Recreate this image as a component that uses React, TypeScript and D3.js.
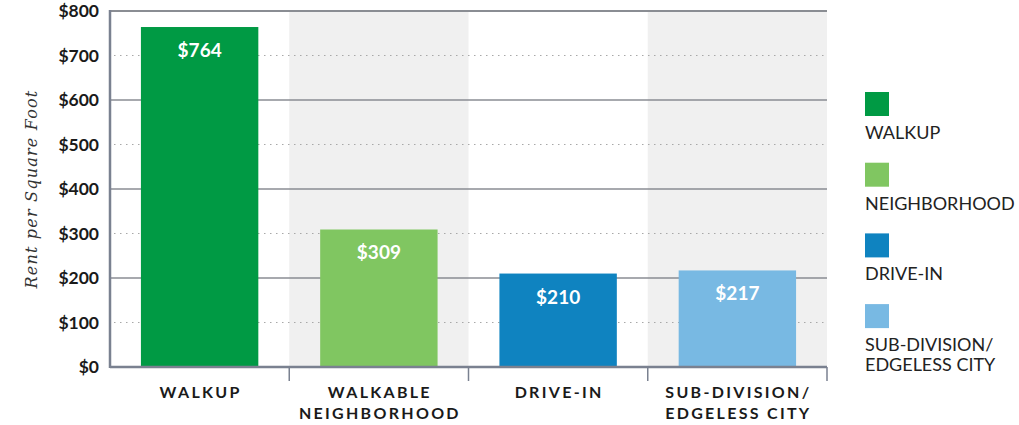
import React from 'react';
import * as d3 from 'd3';

const categories = ['WALKUP', 'WALKABLE|NEIGHBORHOOD', 'DRIVE-IN', 'SUB-DIVISION/|EDGELESS CITY'];
const rents = [764, 309, 210, 217];
const legendLabels = ['WALKUP', 'NEIGHBORHOOD', 'DRIVE-IN', 'SUB-DIVISION/|EDGELESS CITY'];
const barColors = ['#009a44', '#80c661', '#0f83c0', '#78b9e3'];
const yTicks = [0, 100, 200, 300, 400, 500, 600, 700, 800];

const width = 1019;
const height = 425;
const margin = { left: 110, right: 192, top: 11, bottom: 58 };

export default function App() {
  const x = d3
    .scaleBand()
    .domain(d3.range(categories.length).map(String))
    .range([margin.left, width - margin.right])
    .paddingInner(0)
    .paddingOuter(0);
  const inner = 0.655;
  const y = d3
    .scaleLinear()
    .domain([0, 800])
    .range([height - margin.bottom, margin.top]);

  const bw = x.bandwidth();
  const barW = bw * inner;
  const x0 = margin.left;
  const x1 = width - margin.right;

  return (
    <svg width={width} height={height} style={{ position: 'absolute', left: 0, top: 0 }}>
      {categories.map((c, i) =>
        i % 2 === 1 ? (
          <rect key={'bg' + i} x={x(String(i))} y={y(800)} width={bw} height={y(0) - y(800)} fill="#f0f0f0" />
        ) : null
      )}
      {yTicks.map(t =>
        t === 0 ? null : t % 200 === 0 ? (
          <line key={'g' + t} x1={x0} x2={x1} y1={y(t)} y2={y(t)} stroke="#8a8d93" strokeWidth={t === 800 ? 2 : 1.5} />
        ) : (
          <line key={'g' + t} x1={x0 + 4} x2={x1} y1={y(t)} y2={y(t)} stroke="#a8a8a8" strokeWidth={1} strokeDasharray="1.5 4.5" />
        )
      )}
      {rents.map((v, i) => {
        const bx = (x(String(i)) as number) + (bw - barW) / 2;
        return (
          <g key={'b' + i}>
            <rect x={bx} y={y(v)} width={barW} height={y(0) - y(v)} fill={barColors[i]} />
            <text
              x={bx + barW / 2}
              y={y(v) + 30}
              textAnchor="middle"
              fill="#fff"
              fontFamily="Lato, sans-serif"
              fontWeight="bold"
              fontSize={19}
            >
              ${v}
            </text>
          </g>
        );
      })}
      <line x1={x0} x2={x0} y1={y(800) - 1} y2={y(0) + 1} stroke="#7a8190" strokeWidth={2.5} />
      <line x1={x0} x2={x1} y1={y(0)} y2={y(0)} stroke="#7a8190" strokeWidth={2.5} />
      {categories.map((c, i) => (
        <line
          key={'t' + i}
          x1={(x(String(i)) as number) + bw}
          x2={(x(String(i)) as number) + bw}
          y1={y(0)}
          y2={y(0) + 14}
          stroke="#7a8190"
          strokeWidth={1.5}
        />
      ))}
      {yTicks.map(t => (
        <text
          key={'yl' + t}
          x={99}
          y={y(t) + 6}
          textAnchor="end"
          fontFamily="Lato, sans-serif"
          fontWeight="bold"
          fontSize={17.5}
          fill="#1a1a1a"
        >
          ${t}
        </text>
      ))}
      <text
        transform={`translate(37,${y(400)}) rotate(-90)`}
        textAnchor="middle"
        fontFamily="'DejaVu Serif', 'Liberation Serif', serif"
        fontStyle="italic"
        fontSize={16}
        fill="#333"
        letterSpacing={1.2}
      >
        Rent per Square Foot
      </text>
      {categories.map((c, i) => (
        <text
          key={'c' + i}
          x={(x(String(i)) as number) + bw / 2}
          textAnchor="middle"
          fontFamily="Lato, sans-serif"
          fontWeight="bold"
          fontSize={16}
          letterSpacing={2.3}
          fill="#1a1a1a"
        >
          {c.split('|').map((line, j) => (
            <tspan key={j} x={(x(String(i)) as number) + bw / 2 + 1} y={398 + j * 20.5}>
              {line}
            </tspan>
          ))}
        </text>
      ))}
      {legendLabels.map((l, i) => (
        <g key={'lg' + i} transform={`translate(865,${92 + i * 70.7})`}>
          <rect width={24} height={24} fill={barColors[i]} />
          <text fontFamily="Lato, sans-serif" fontSize={18} fill="#222">
            {l.split('|').map((line, j) => (
              <tspan key={j} x={0} y={47 + j * 20}>
                {line}
              </tspan>
            ))}
          </text>
        </g>
      ))}
    </svg>
  );
}
